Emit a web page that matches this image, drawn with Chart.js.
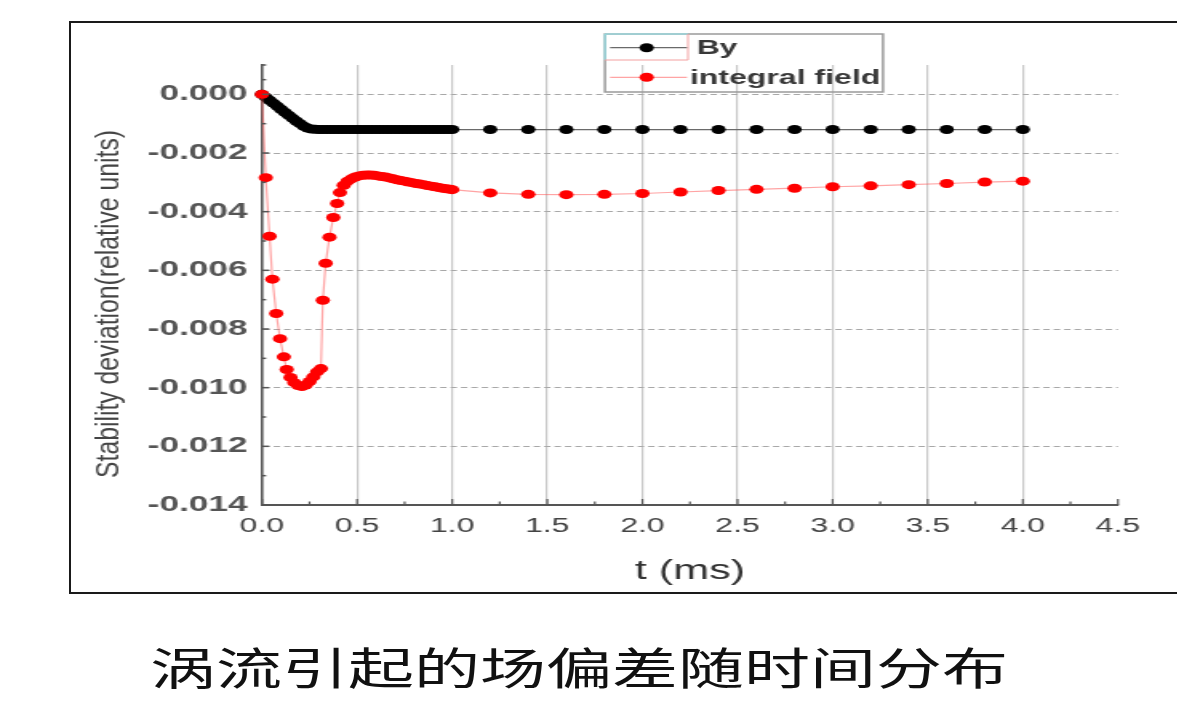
<!DOCTYPE html>
<html>
<head>
<meta charset="utf-8">
<script src="https://cdn.jsdelivr.net/npm/chart.js@4.4.1/dist/chart.umd.min.js"></script>
<style>
  html, body { margin: 0; padding: 0; background: #fff; overflow: hidden; width: 1177px; height: 701px; }
  #frame { position: absolute; left: 69px; top: 21px; width: 1130px; height: 569px; border: 2px solid #1a1a1a; }
  /* the source figure is stretched sideways, so the whole chart is too */
  #wrap { position: absolute; left: 0; top: 0; width: 736px; height: 600px; transform: scaleX(1.6); transform-origin: 0 0; }
  #caption { position: absolute; left: 150px; top: 644px; font: 44px/44px "Noto Sans CJK SC"; color: #111;
             white-space: nowrap; transform: scaleX(1.5); transform-origin: 0 0; }
</style>
</head>
<body>
<div id="frame"></div>
<div id="wrap"><canvas id="chart" width="736" height="600"></canvas></div>
<div id="caption">涡流引起的场偏差随时间分布</div>
<script>
const xTicks = [0, 0.5, 1, 1.5, 2, 2.5, 3, 3.5, 4, 4.5];
const yTicks = [0, -0.002, -0.004, -0.006, -0.008, -0.010, -0.012, -0.014];
const seriesNames = ["By", "integral field"];
const xTitle = "t (ms)";
const yTitle = "Stability deviation(relative units)";

const byTime = [0, 0.02, 0.04, 0.06, 0.08, 0.1, 0.12, 0.14, 0.16, 0.18, 0.2, 0.22, 0.24, 0.26, 0.28,
  0.3, 0.32, 0.34, 0.36, 0.38, 0.4, 0.42, 0.44, 0.46, 0.48, 0.5, 0.52, 0.54, 0.56, 0.58, 0.6,
  0.62, 0.64, 0.66, 0.68, 0.7, 0.72, 0.74, 0.76, 0.78, 0.8, 0.82, 0.84, 0.86, 0.88, 0.9,
  0.92, 0.94, 0.96, 0.98, 1.0,
  1.2, 1.4, 1.6, 1.8, 2.0, 2.2, 2.4, 2.6, 2.8, 3.0, 3.2, 3.4, 3.6, 3.8, 4.0];
const byValue = [0, -0.0001, -0.0002, -0.0003, -0.0004, -0.00051, -0.00061, -0.00071, -0.00081, -0.00091,
  -0.001, -0.00109, -0.00115, -0.00118, -0.00119,
  -0.0012, -0.0012, -0.0012, -0.0012, -0.0012, -0.0012, -0.0012, -0.0012, -0.0012, -0.0012, -0.0012,
  -0.0012, -0.0012, -0.0012, -0.0012, -0.0012, -0.0012, -0.0012, -0.0012, -0.0012, -0.0012,
  -0.0012, -0.0012, -0.0012, -0.0012, -0.0012, -0.0012, -0.0012, -0.0012, -0.0012, -0.0012,
  -0.0012, -0.0012, -0.0012, -0.0012, -0.0012,
  -0.0012, -0.0012, -0.0012, -0.0012, -0.0012, -0.0012, -0.0012, -0.0012, -0.0012, -0.0012,
  -0.0012, -0.0012, -0.0012, -0.0012, -0.0012];

const fieldTime = [0, 0.02, 0.04, 0.055, 0.075, 0.095, 0.115, 0.13, 0.15, 0.17, 0.19, 0.21, 0.23, 0.25,
  0.27, 0.29, 0.31, 0.32, 0.335, 0.355, 0.375, 0.395,
  0.41, 0.43, 0.45, 0.47, 0.49, 0.51, 0.53, 0.55, 0.57, 0.59, 0.61, 0.63, 0.65, 0.67, 0.69,
  0.71, 0.73, 0.75, 0.77, 0.79, 0.81, 0.83, 0.85, 0.87, 0.89, 0.91, 0.93, 0.95, 0.97, 0.99, 1.0,
  1.2, 1.4, 1.6, 1.8, 2.0, 2.2, 2.4, 2.6, 2.8, 3.0, 3.2, 3.4, 3.6, 3.8, 4.0];
const fieldValue = [0, -0.00284, -0.00484, -0.0063, -0.00747, -0.00833, -0.00895, -0.00938, -0.00965,
  -0.00983, -0.00993, -0.00996, -0.00991, -0.00979, -0.00963, -0.00946, -0.00935, -0.00702, -0.00576,
  -0.00487, -0.0042, -0.00372,
  -0.00335, -0.0031, -0.00296, -0.00288, -0.00282, -0.00278, -0.00276, -0.00275, -0.00275, -0.00276,
  -0.00278, -0.0028, -0.00282, -0.00285, -0.00288, -0.00291, -0.00294, -0.00296, -0.00299, -0.00301,
  -0.00304, -0.00306, -0.00308, -0.00311, -0.00313, -0.00315, -0.00318, -0.0032, -0.00322, -0.00324, -0.00325,
  -0.00336, -0.00341, -0.00342, -0.00341, -0.00338, -0.00333, -0.00328, -0.00324, -0.0032, -0.00315,
  -0.00312, -0.00308, -0.00304, -0.00299, -0.00296];

const toPoints = (ts, vs) => ts.map((t, i) => ({ x: t, y: vs[i] }));

// inward ticks, axis titles and the Origin-style legend box
const decor = {
  id: "decor",
  afterDraw(chart) {
    const { ctx, chartArea: a, scales: { x, y } } = chart;
    const seg = (x1, y1, x2, y2) => { ctx.beginPath(); ctx.moveTo(x1, y1); ctx.lineTo(x2, y2); ctx.stroke(); };
    ctx.save();
    ctx.strokeStyle = "#555";

    ctx.lineWidth = 1.2;
    xTicks.forEach((v, i) => {
      const px = x.getPixelForValue(v);
      seg(px, a.bottom, px, a.bottom - 6);
      if (i < xTicks.length - 1) {
        const m = x.getPixelForValue((v + xTicks[i + 1]) / 2);
        seg(m, a.bottom, m, a.bottom - 3.5);
      }
    });
    ctx.lineWidth = 1.5;
    const ys = [...yTicks].sort((p, q) => p - q);
    ys.forEach((v, i) => {
      const py = y.getPixelForValue(v);
      seg(a.left, py, a.left + 4.6, py);
      const next = i < ys.length - 1 ? ys[i + 1] : y.max;
      const m = y.getPixelForValue((v + next) / 2);
      seg(a.left, m, a.left + 2.6, m);
    });
    seg(a.left, a.top, a.left + 2.6, a.top);

    // axis titles
    ctx.fillStyle = "#333";
    ctx.font = "27px 'Liberation Sans', Arial, sans-serif";
    ctx.textAlign = "center";
    ctx.textBaseline = "middle";
    ctx.fillText(xTitle, (a.left + a.right) / 2, 572);

    ctx.save();
    ctx.translate(68.75, 304);
    ctx.rotate(-Math.PI / 2);
    ctx.font = "20px 'Liberation Sans', Arial, sans-serif";
    ctx.scale(348 / ctx.measureText(yTitle).width, 1);
    ctx.fillStyle = "#444";
    ctx.fillText(yTitle, 0, 0);
    ctx.restore();

    // legend
    ctx.lineWidth = 1.5;
    ctx.strokeStyle = "#9a9a9a";
    ctx.strokeRect(378.1, 34, 173.8, 58);
    ctx.lineWidth = 1;
    ctx.strokeStyle = "#8ee8f0";
    seg(378.1, 34, 430, 34);
    seg(378.1, 34, 378.1, 60);
    ctx.strokeStyle = "#f3a0a0";
    seg(430, 34, 430, 60);
    seg(378.1, 60, 430, 60);

    const rows = [{ y: 47.7, tx: 435.4 }, { y: 77.3, tx: 431.3 }];
    chart.data.datasets.forEach((ds, i) => {
      const r = rows[i];
      ctx.strokeStyle = ds.borderColor;
      ctx.lineWidth = 1.2;
      seg(381.3, r.y, 429.4, r.y);
      ctx.fillStyle = ds.pointBackgroundColor;
      ctx.beginPath();
      ctx.arc(404.2, r.y, 4.5, 0, Math.PI * 2);
      ctx.fill();
      ctx.fillStyle = "#383838";
      ctx.font = "bold 20px 'Liberation Sans', Arial, sans-serif";
      ctx.textAlign = "left";
      ctx.fillText(ds.label, r.tx, r.y + 1);
    });
    ctx.restore();
  }
};

new Chart(document.getElementById("chart"), {
  type: "line",
  data: {
    datasets: [
      {
        label: seriesNames[0],
        data: toPoints(byTime, byValue),
        borderColor: "#6a6a6a",
        borderWidth: 1.2,
        pointBackgroundColor: "#000",
        pointBorderColor: "#000",
        pointBorderWidth: 0,
        pointRadius: 4.5,
        clip: false,
        order: 2
      },
      {
        label: seriesNames[1],
        data: toPoints(fieldTime, fieldValue),
        borderColor: "rgba(255,90,90,0.55)",
        borderWidth: 1.2,
        pointBackgroundColor: "#f00",
        pointBorderColor: "#f00",
        pointBorderWidth: 0,
        pointRadius: 4.5,
        clip: false,
        order: 1
      }
    ]
  },
  options: {
    responsive: false,
    animation: false,
    events: [],
    layout: { padding: { left: 0, right: 37.25, top: 65, bottom: 0 } },
    plugins: { legend: { display: false }, tooltip: { enabled: false } },
    scales: {
      x: {
        type: "linear",
        min: 0,
        max: 4.5,
        afterFit: (s) => { s.height = 95; },
        afterBuildTicks: (s) => { s.ticks = xTicks.map((v) => ({ value: v })); },
        ticks: {
          padding: 9,
          color: "#444",
          font: { family: "'Liberation Sans', Arial, sans-serif", size: 20 },
          callback: (v) => Number(v).toFixed(1)
        },
        grid: {
          drawTicks: false,
          lineWidth: 1.2,
          color: (c) => (c.tick && (c.tick.value === 0 || c.tick.value === 4.5) ? "rgba(0,0,0,0)" : "#c8c8c8")
        },
        border: { color: "#555", width: 2 }
      },
      y: {
        type: "linear",
        min: -0.014,
        max: 0.001,
        afterFit: (s) => { s.width = 163.75; },
        afterBuildTicks: (s) => { s.ticks = yTicks.map((v) => ({ value: v })).sort((p, q) => p.value - q.value); },
        ticks: {
          padding: 9,
          color: "#555",
          font: { family: "'Liberation Sans', Arial, sans-serif", size: 22, weight: "bold" },
          callback: (v) => Number(v).toFixed(3)
        },
        grid: {
          drawTicks: false,
          lineWidth: 1,
          color: (c) => (c.tick && c.tick.value === -0.014 ? "rgba(0,0,0,0)" : "#a8a8a8")
        },
        border: { color: "#555", width: 1.6, dash: [4, 2.5] }
      }
    }
  },
  plugins: [decor]
});
</script>
</body>
</html>
